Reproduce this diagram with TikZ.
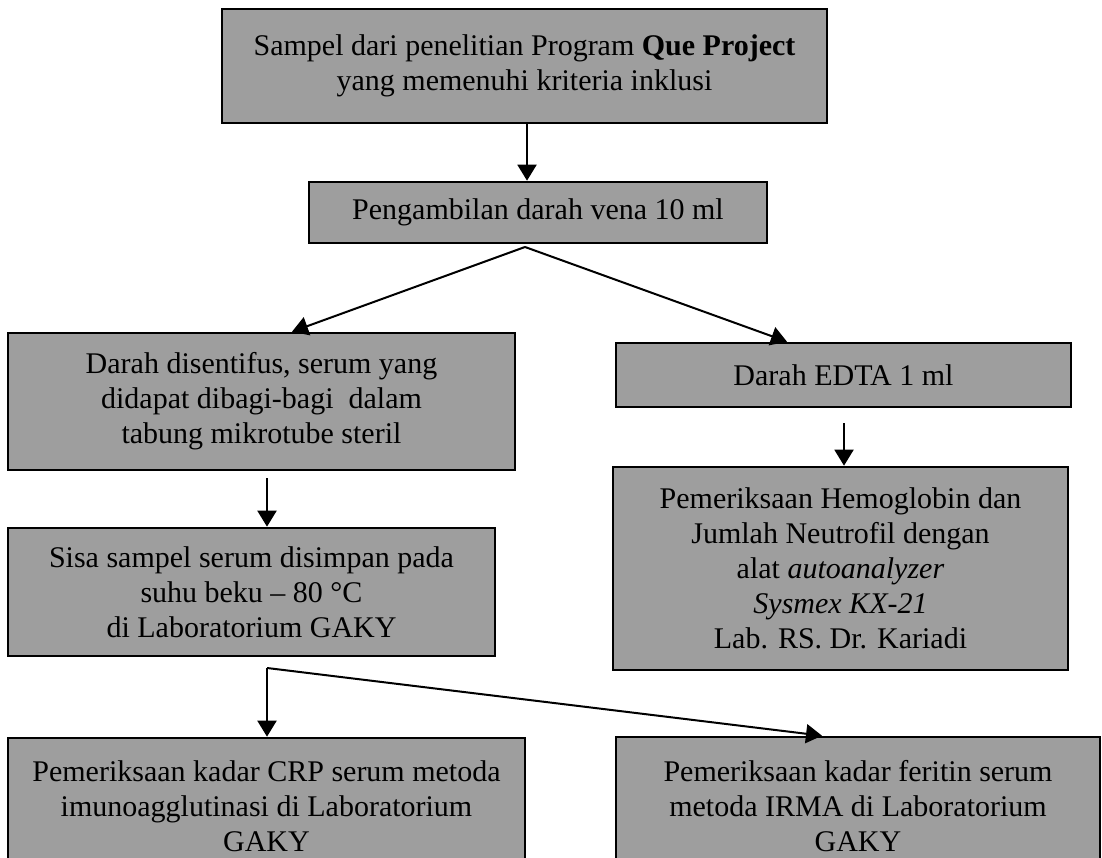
\documentclass[tikz,border=0pt]{standalone}
\usepackage{fontspec}
\setmainfont{Liberation Serif}
\usetikzlibrary{arrows.meta}

\tikzset{
  stepbox/.style={draw=black, line width=2.6pt, fill=black!38, rectangle,
    inner sep=0pt, align=center,
    font=\fontsize{30}{35}\selectfont},
  flow/.style={line width=2pt, -{Triangle[width=19pt,length=16pt]}},
  plain/.style={line width=2pt}
}

\begin{document}
\begin{tikzpicture}[x=1pt,y=1pt]
  \useasboundingbox[fill=white] (0,0) rectangle (1102,858);

  % boxes
  \node[stepbox, minimum width=605pt, minimum height=114pt] (sampel) at (524.5,792)
    {Sampel dari penelitian Program \textbf{Que Project}\\ yang memenuhi kriteria inklusi};
  \node[stepbox, minimum width=458pt, minimum height=61pt] (ambil) at (538,645.5)
    {Pengambilan darah vena 10 ml};
  \node[stepbox, minimum width=507pt, minimum height=137pt] (sentri) at (261.5,456.5)
    {Darah disentifus, serum yang\\ didapat dibagi-bagi\ \ dalam\\ tabung mikrotube steril};
  \node[stepbox, minimum width=455pt, minimum height=64pt] (edta) at (843.5,483)
    {Darah EDTA 1 ml};
  \node[stepbox, minimum width=487pt, minimum height=128pt] (simpan) at (251.5,266)
    {Sisa sampel serum disimpan pada\\ suhu beku – 80 °C\\ di Laboratorium GAKY};
  \node[stepbox, minimum width=455pt, minimum height=203pt] (hb) at (840.5,289.5)
    {Pemeriksaan Hemoglobin dan\\ Jumlah Neutrofil dengan\\ alat \textit{autoanalyzer}\\ \textit{Sysmex KX-21}\\ Lab. RS. Dr. Kariadi};
  \node[stepbox, minimum width=517pt, minimum height=137pt] (crp) at (266.5,51.5)
    {Pemeriksaan kadar CRP serum metoda\\ imunoagglutinasi di Laboratorium\\ GAKY};
  \node[stepbox, minimum width=484pt, minimum height=138pt] (feritin) at (858,52)
    {Pemeriksaan kadar feritin serum\\ metoda IRMA di Laboratorium\\ GAKY};

  % branching points
  \coordinate (split1) at (525,611);
  \coordinate (split2) at (267,190);

  % connectors
  \draw[flow] ([xshift=2.5pt]sampel.south) -- ([xshift=-11pt]ambil.north);
  \draw[flow] (split1) -- ([xshift=30.5pt]sentri.north);
  \draw[flow] (split1) -- ([xshift=-56.5pt]edta.north);
  \draw[flow] ([xshift=5.5pt,yshift=-7pt]sentri.south) -- ([xshift=15.5pt]simpan.north);
  \draw[flow] ([xshift=0.5pt,yshift=-15pt]edta.south) -- ([xshift=3.5pt]hb.north);
  \draw[flow] (split2) -- (split2 |- crp.north);
  \draw[flow] (split2) -- ([xshift=-36pt]feritin.north);
\end{tikzpicture}
\end{document}
